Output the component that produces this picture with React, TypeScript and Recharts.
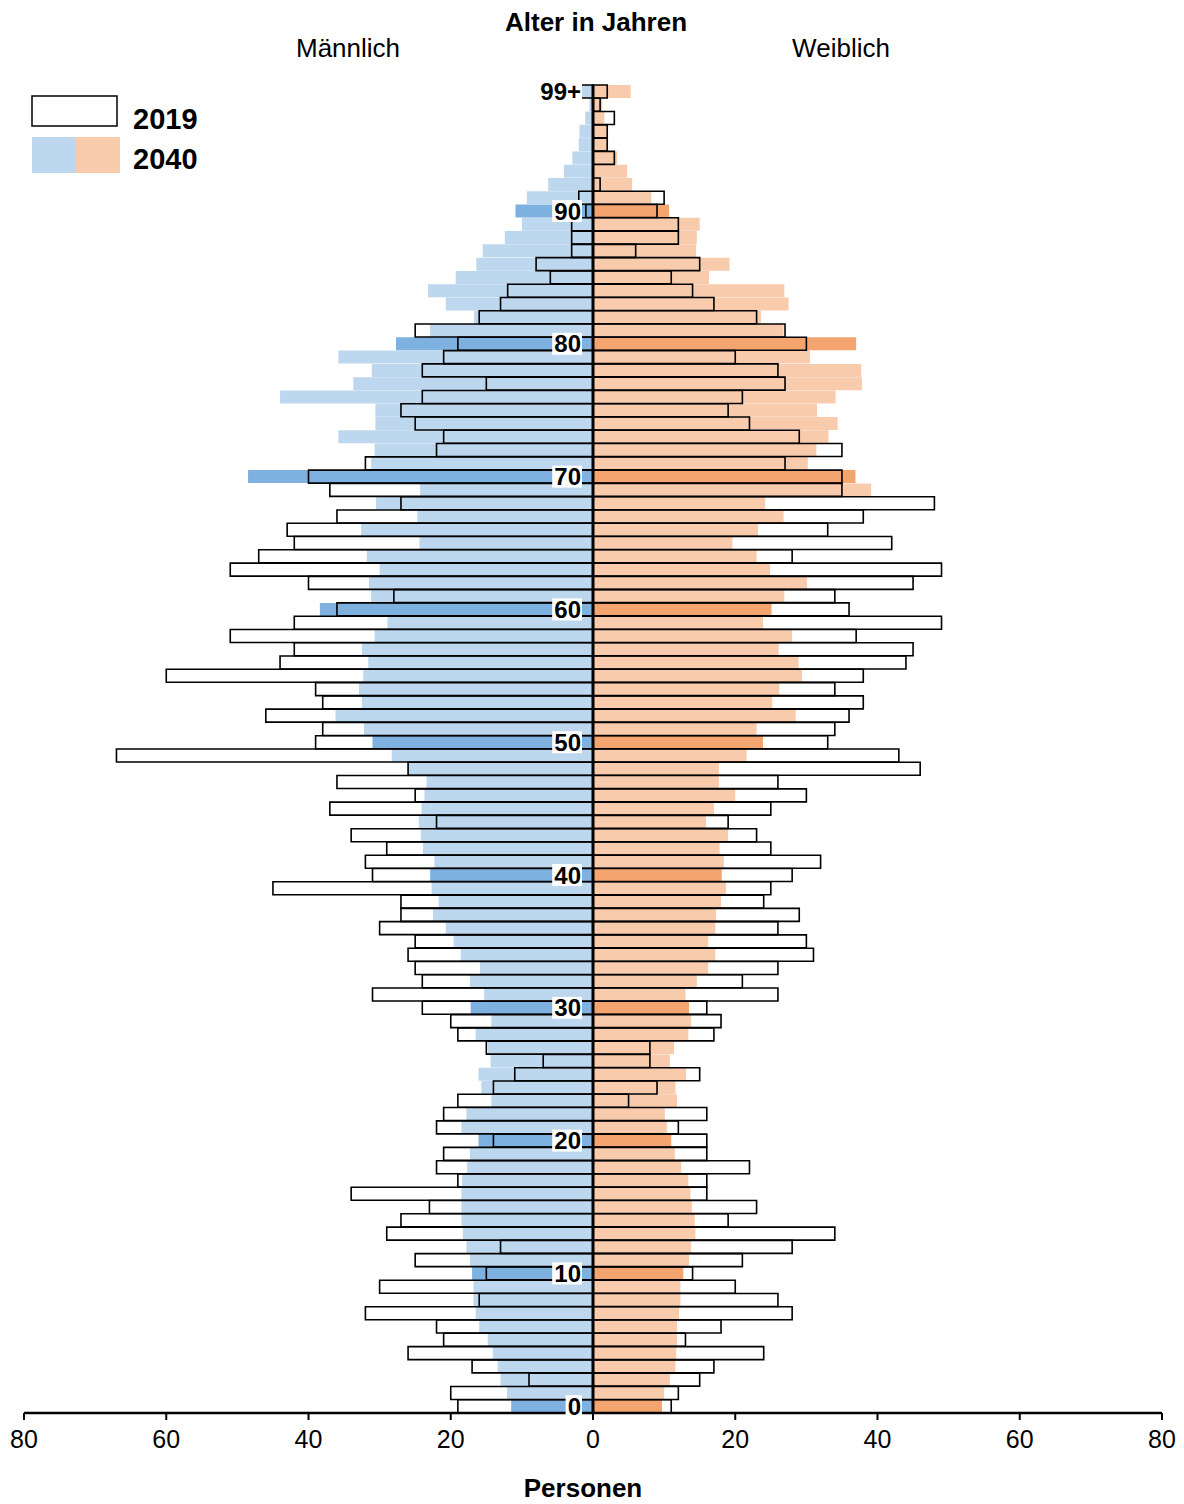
import React from 'react';
import { BarChart, Bar, XAxis, YAxis, Cell, ReferenceLine, LabelList } from 'recharts';

// Age categories 0 .. 99+
const ageLabels: string[] = Array.from({ length: 100 }, (_, i) => (i === 99 ? '99+' : String(i)));

// 2019, Männlich (ages 0..99+)
const male2019 = [
  19, 20, 9, 17, 26, 21, 22, 32, 16, 30,
  15, 25, 13, 29, 27, 23, 34, 19, 22, 21,
  14, 22, 21, 19, 14, 11, 7, 15, 19, 20,
  24, 31, 24, 25, 26, 25, 30, 27, 27, 45,
  31, 32, 29, 34, 22, 37, 25, 36, 26, 67,
  39, 38, 46, 38, 39, 60, 44, 42, 51, 42,
  36, 28, 40, 51, 47, 42, 43, 36, 27, 37,
  40, 32, 22, 21, 25, 27, 24, 15, 24, 21,
  19, 25, 16, 13, 12, 6, 8, 3, 3, 3,
  1, 2, 0, 0, 0, 0, 0, 0, 0, 2,
];

// 2040, Männlich
const male2040 = [
  11.5, 12.1, 13.0, 13.4, 14.1, 14.8, 16.0, 16.5, 16.8, 16.8,
  17.0, 17.3, 17.8, 18.3, 18.5, 18.5, 18.5, 18.4, 17.7, 17.3,
  16.1, 18.5, 17.8, 14.3, 15.7, 16.1, 14.4, 14.8, 16.5, 14.3,
  17.2, 15.3, 17.3, 15.9, 18.6, 19.6, 20.7, 22.5, 21.7, 22.7,
  22.9, 22.3, 23.9, 24.2, 24.5, 24.1, 23.7, 23.4, 26.0, 28.3,
  31.0, 32.2, 36.2, 32.5, 32.9, 32.3, 31.6, 32.5, 30.7, 28.9,
  38.4, 31.2, 31.5, 30.0, 31.8, 24.4, 32.6, 24.7, 30.5, 24.3,
  48.5, 31.2, 30.7, 35.8, 30.6, 30.6, 44.0, 33.7, 31.1, 35.8,
  27.7, 22.9, 16.7, 20.7, 23.2, 19.3, 16.4, 15.5, 12.4, 10.0,
  10.9, 9.3, 6.3, 4.1, 2.9, 2.0, 1.9, 1.1, 0.5, 2.0,
];

// 2019, Weiblich
const female2019 = [
  11, 12, 15, 17, 24, 13, 18, 28, 26, 20,
  14, 21, 28, 34, 19, 23, 16, 16, 22, 16,
  16, 12, 16, 5, 9, 15, 8, 8, 17, 18,
  16, 26, 21, 26, 31, 30, 26, 29, 24, 25,
  28, 32, 25, 23, 19, 25, 30, 26, 46, 43,
  33, 34, 36, 38, 34, 38, 44, 45, 37, 49,
  36, 34, 45, 49, 28, 42, 33, 38, 48, 35,
  35, 27, 35, 29, 22, 19, 21, 27, 26, 20,
  30, 27, 23, 17, 14, 11, 15, 6, 12, 12,
  9, 10, 1, 0, 3, 2, 2, 3, 1, 2,
];

// 2040, Weiblich
const female2040 = [
  9.7, 10.0, 10.8, 11.6, 11.7, 11.8, 11.8, 12.1, 12.3, 12.3,
  12.7, 13.5, 13.8, 14.4, 14.3, 13.9, 13.7, 13.4, 12.4, 11.5,
  11.0, 10.4, 10.1, 11.8, 11.6, 13.1, 10.8, 11.4, 13.4, 13.8,
  13.5, 13.0, 14.6, 16.2, 17.2, 16.2, 17.2, 17.3, 18.0, 18.7,
  18.1, 18.4, 17.8, 19.0, 15.9, 17.0, 20.0, 17.7, 17.7, 21.6,
  23.9, 23.0, 28.5, 25.2, 26.2, 29.4, 28.9, 26.1, 28.0, 23.9,
  25.1, 26.9, 30.1, 24.9, 23.0, 19.6, 23.2, 26.8, 24.2, 39.1,
  36.9, 30.2, 31.4, 33.1, 34.4, 31.5, 34.1, 37.8, 37.7, 30.5,
  37.0, 26.8, 23.6, 27.5, 26.9, 16.3, 19.2, 14.5, 14.6, 15.0,
  10.7, 8.2, 5.5, 4.8, 3.4, 2.1, 2.1, 1.6, 1.3, 5.3,
];

const xTicks = [-80, -60, -40, -20, 0, 20, 40, 60, 80];

const LIGHT_BLUE = '#BDD7EE';
const DARK_BLUE = '#7EB0E0';
const LIGHT_ORANGE = '#F8CBAD';
const DARK_ORANGE = '#F4A46F';

const data = ageLabels.map((age, i) => ({
  age,
  m40: -male2040[i],
  f40: female2040[i],
  m19: -male2019[i],
  f19: female2019[i],
}));

const isMarked = (i: number) => i % 10 === 0;

const FONT = 'Liberation Sans, Arial, Helvetica, sans-serif';
const W = 1176;
const H = 1496;
const MARGIN = { top: 77, right: 22, bottom: 61, left: 16 };
const LABEL_RIGHT = 573;

const AgeLabel = (props: any) => {
  const { y, height, value } = props;
  const v = String(value);
  if (!(v === '99+' || Number(v) % 10 === 0)) return null;
  const cy = Number(y) + Number(height) / 2;
  const w = v === '99+' ? 40 : v.length * 13.4;
  return (
    <g>
      <rect x={LABEL_RIGHT - w - 2} y={cy - 11} width={w + 3} height={22} fill="#ffffff" />
      <text
        x={LABEL_RIGHT}
        y={cy}
        dy="0.36em"
        textAnchor="end"
        fontSize={24}
        fontWeight="bold"
        fontFamily={FONT}
        fill="#000"
      >
        {v}
      </text>
    </g>
  );
};

export default function App() {
  return (
    <div style={{ position: 'relative', width: W, height: H, fontFamily: FONT }}>
      <BarChart
        width={W}
        height={H}
        data={data}
        layout="vertical"
        margin={MARGIN}
        barCategoryGap={0}
        barGap={0}
        stackOffset="sign"
      >
        <XAxis
          type="number"
          domain={[-80, 80]}
          ticks={xTicks}
          tickFormatter={(v: number) => String(Math.abs(v))}
          height={30}
          axisLine={{ stroke: '#000', strokeWidth: 2.5 }}
          tickLine={{ stroke: '#000', strokeWidth: 2 }}
          tickSize={7}
          tickMargin={10}
          tick={{ fill: '#000', fontSize: 25, fontFamily: FONT }}
          allowDataOverflow
        />
        <YAxis yAxisId="a" type="category" dataKey="age" reversed hide />
        <YAxis yAxisId="b" type="category" dataKey="age" reversed hide />
        <Bar dataKey="m40" stackId="s40" yAxisId="a" isAnimationActive={false}>
          {data.map((_, i) => (
            <Cell key={`m40-${i}`} fill={isMarked(i) ? DARK_BLUE : LIGHT_BLUE} />
          ))}
        </Bar>
        <Bar dataKey="f40" stackId="s40" yAxisId="a" isAnimationActive={false}>
          {data.map((_, i) => (
            <Cell key={`f40-${i}`} fill={isMarked(i) ? DARK_ORANGE : LIGHT_ORANGE} />
          ))}
        </Bar>
        <Bar
          dataKey="f19"
          stackId="s19"
          yAxisId="b"
          fill="none"
          stroke="#000"
          strokeWidth={1.6}
          isAnimationActive={false}
        />
        <Bar
          dataKey="m19"
          stackId="s19"
          yAxisId="b"
          fill="none"
          stroke="#000"
          strokeWidth={1.6}
          isAnimationActive={false}
        >
          <LabelList dataKey="age" content={<AgeLabel />} />
        </Bar>
        <ReferenceLine x={0} yAxisId="a" stroke="#000" strokeWidth={3} />
      </BarChart>
      <svg
        width={W}
        height={H}
        style={{ position: 'absolute', left: 0, top: 0, pointerEvents: 'none' }}
      >
        <text x={588} y={23} textAnchor="middle" fontSize={26} fontWeight="bold" fontFamily={FONT} fill="#000">
          Alter in Jahren
        </text>
        <text x={340} y={49} textAnchor="middle" fontSize={26} fontFamily={FONT} fill="#000">
          Männlich
        </text>
        <text x={833} y={49} textAnchor="middle" fontSize={26} fontFamily={FONT} fill="#000">
          Weiblich
        </text>
        <text x={575} y={1489} textAnchor="middle" fontSize={26} fontWeight="bold" fontFamily={FONT} fill="#000">
          Personen
        </text>
        <rect x={24} y={88} width={85} height={30} fill="#fff" stroke="#000" strokeWidth={1.5} />
        <rect x={24} y={129} width={44} height={36} fill={LIGHT_BLUE} />
        <rect x={68} y={129} width={44} height={36} fill={LIGHT_ORANGE} />
        <text x={125} y={121} fontSize={29} fontWeight="bold" fontFamily={FONT} fill="#000">
          2019
        </text>
        <text x={125} y={161} fontSize={29} fontWeight="bold" fontFamily={FONT} fill="#000">
          2040
        </text>
      </svg>
    </div>
  );
}
